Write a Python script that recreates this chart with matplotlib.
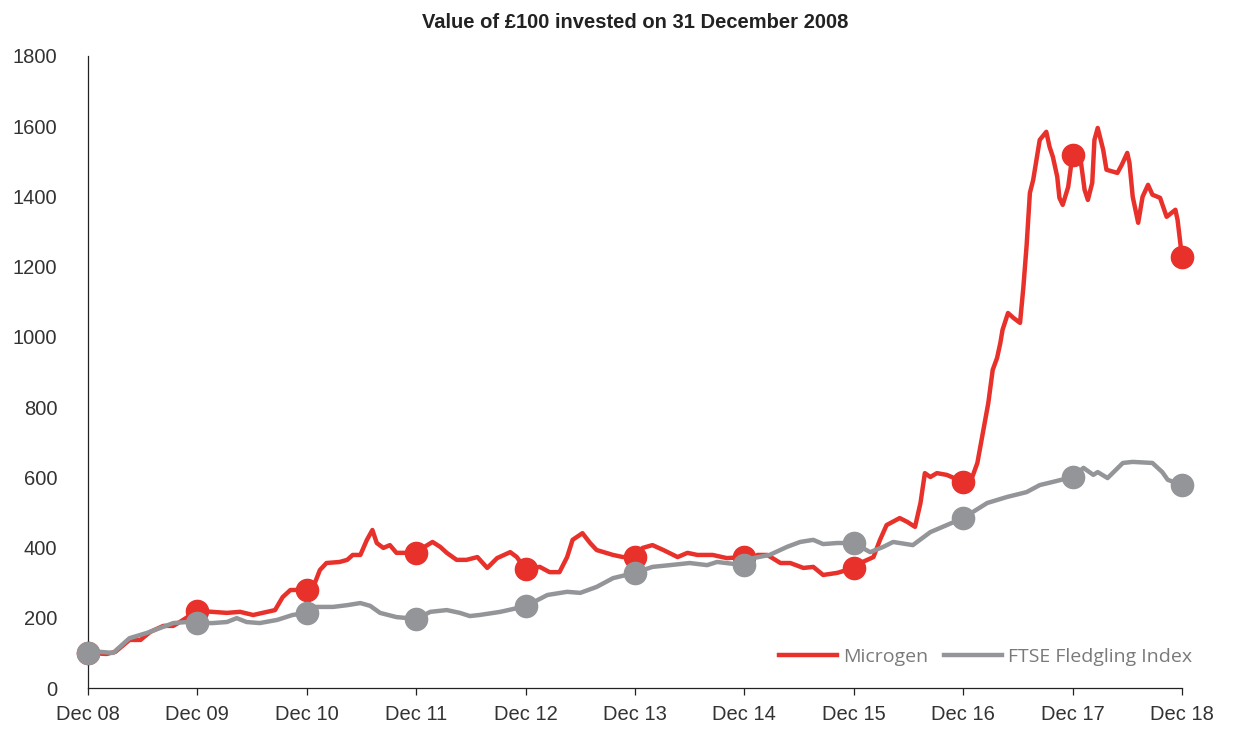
import matplotlib
matplotlib.use("Agg")
import matplotlib.pyplot as plt

# years since 31 Dec 2008
micro_t = [0.00, 0.17, 0.25, 0.38, 0.48, 0.57, 0.69, 0.78, 0.84, 1.00, 1.14, 1.27, 1.39, 1.51, 1.64,
           1.71, 1.78, 1.85, 2.00, 2.06, 2.12, 2.18, 2.30, 2.37, 2.42, 2.49, 2.55, 2.60, 2.64, 2.70,
           2.76, 2.82, 3.00, 3.06, 3.15, 3.22, 3.28, 3.37, 3.46, 3.56, 3.65, 3.74, 3.86, 3.92, 4.00,
           4.13, 4.22, 4.31, 4.38, 4.43, 4.52, 4.59, 4.65, 4.80, 4.89, 5.00, 5.07, 5.16, 5.26, 5.39,
           5.48, 5.57, 5.71, 5.84, 6.00, 6.05, 6.12, 6.21, 6.33, 6.42, 6.54, 6.63, 6.72, 6.85, 7.00,
           7.06, 7.18, 7.24, 7.30, 7.42, 7.49, 7.56, 7.61, 7.65, 7.70, 7.76, 7.85, 8.00, 8.08, 8.13,
           8.18, 8.23, 8.27, 8.31, 8.34, 8.36, 8.41, 8.46, 8.52, 8.55, 8.58, 8.61, 8.64, 8.67, 8.70,
           8.76, 8.79, 8.82, 8.86, 8.88, 8.91, 8.96, 9.00, 9.07, 9.11, 9.14, 9.18, 9.20, 9.23, 9.28,
           9.31, 9.41, 9.45, 9.50, 9.52, 9.55, 9.60, 9.64, 9.69, 9.73, 9.80, 9.86, 9.94, 9.96, 10.00]
micro_v = [100, 97, 103, 137, 137, 160, 177, 177, 188, 220, 217, 214, 217, 208, 217,
           222, 259, 279, 280, 288, 336, 356, 359, 365, 379, 379, 422, 450, 413, 399,
           407, 385, 385, 399, 416, 402, 385, 365, 365, 373, 342, 370, 387, 373, 338,
           345, 330, 330, 373, 422, 441, 413, 393, 379, 373, 373, 399, 407, 393, 373,
           385, 379, 379, 370, 373, 362, 379, 379, 356, 356, 342, 345, 322, 328, 342,
           356, 373, 422, 464, 484, 473, 459, 527, 612, 601, 612, 607, 587, 598, 641,
           726, 812, 906, 940, 983, 1020, 1068, 1054, 1040, 1140, 1260, 1410, 1447, 1504, 1561,
           1584, 1541, 1513, 1456, 1396, 1376, 1427, 1519, 1513, 1419, 1390, 1439, 1561, 1595, 1533,
           1476, 1467, 1490, 1524, 1496, 1399, 1325, 1399, 1433, 1405, 1396, 1342, 1362, 1333, 1228]

ftse_t = [0.00, 0.11, 0.23, 0.38, 0.54, 0.66, 0.78, 0.90, 1.00, 1.14, 1.27, 1.36, 1.45, 1.57, 1.73,
          1.87, 2.00, 2.06, 2.24, 2.37, 2.49, 2.58, 2.67, 2.82, 3.00, 3.13, 3.28, 3.40, 3.49, 3.58,
          3.77, 4.00, 4.20, 4.38, 4.50, 4.65, 4.80, 5.00, 5.16, 5.32, 5.50, 5.66, 5.75, 6.00, 6.08,
          6.23, 6.39, 6.51, 6.63, 6.72, 6.85, 7.00, 7.15, 7.27, 7.36, 7.54, 7.70, 7.85, 8.00, 8.22,
          8.40, 8.58, 8.70, 8.82, 9.00, 9.10, 9.19, 9.23, 9.32, 9.46, 9.55, 9.73, 9.82, 9.87, 10.00]
ftse_v = [100, 103, 100, 142, 157, 171, 185, 188, 185, 185, 188, 199, 188, 185, 194,
          208, 214, 231, 231, 236, 242, 234, 214, 202, 197, 217, 222, 214, 205, 208,
          217, 233, 265, 274, 271, 288, 313, 328, 345, 350, 356, 350, 359, 350, 370,
          379, 402, 416, 422, 410, 413, 413, 387, 402, 416, 407, 444, 464, 484, 527,
          544, 558, 578, 587, 601, 627, 607, 615, 598, 641, 644, 641, 615, 593, 578]

year_ticks = [0, 1, 2, 3, 4, 5, 6, 7, 8, 9, 10]
tick_labels = ["Dec 08", "Dec 09", "Dec 10", "Dec 11", "Dec 12", "Dec 13",
               "Dec 14", "Dec 15", "Dec 16", "Dec 17", "Dec 18"]

RED = "#e8312a"
GREY = "#939598"

plt.rcParams["font.family"] = ["Liberation Sans", "DejaVu Sans"]

fig = plt.figure(figsize=(12.37, 7.29), dpi=100)
ax = fig.add_axes([0.0711, 0.0562, 0.8844, 0.867])

# markers at each year end
micro_mark = [micro_v[micro_t.index(float(y))] for y in year_ticks]
ftse_mark = [ftse_v[ftse_t.index(float(y))] for y in year_ticks]

ax.plot(micro_t, micro_v, color=RED, lw=3.2, solid_joinstyle="round", label="Microgen",
        clip_on=False, zorder=2)
ax.plot(year_ticks, micro_mark, "o", color=RED, ms=16, clip_on=False, zorder=2)
ax.plot(ftse_t, ftse_v, color=GREY, lw=3.2, solid_joinstyle="round", label="FTSE Fledgling Index",
        clip_on=False, zorder=3)
ax.plot(year_ticks, ftse_mark, "o", color=GREY, ms=16, clip_on=False, zorder=3)

ax.set_xlim(0, 10)
ax.set_ylim(0, 1800)
ax.set_xticks(year_ticks)
ax.set_xticklabels(tick_labels)
ax.set_yticks(range(0, 1801, 200))

for s in ["top", "right"]:
    ax.spines[s].set_visible(False)
for s in ["left", "bottom"]:
    ax.spines[s].set_color("#222222")
    ax.spines[s].set_linewidth(0.9)

ax.tick_params(axis="x", direction="out", length=5, width=0.9, color="#222222",
               labelsize=14.5, labelcolor="#333333", pad=7)
ax.tick_params(axis="y", length=0, labelsize=14.5, labelcolor="#333333", pad=22)

ax.set_title("Value of £100 invested on 31 December 2008", fontsize=14.5, fontweight="bold",
             color="#222222", pad=20)

leg = ax.legend(loc="center right", bbox_to_anchor=(1192 / 1237, 1 - 657 / 729),
                bbox_transform=fig.transFigure, ncol=2, frameon=False,
                prop={"family": "Open Sans", "size": 14}, handlelength=3.0,
                handletextpad=0.3, columnspacing=0.8, borderpad=0, borderaxespad=0)
for t in leg.get_texts():
    t.set_color("#7a7a7a")

plt.savefig("out.png", dpi=100)
plt.close()
